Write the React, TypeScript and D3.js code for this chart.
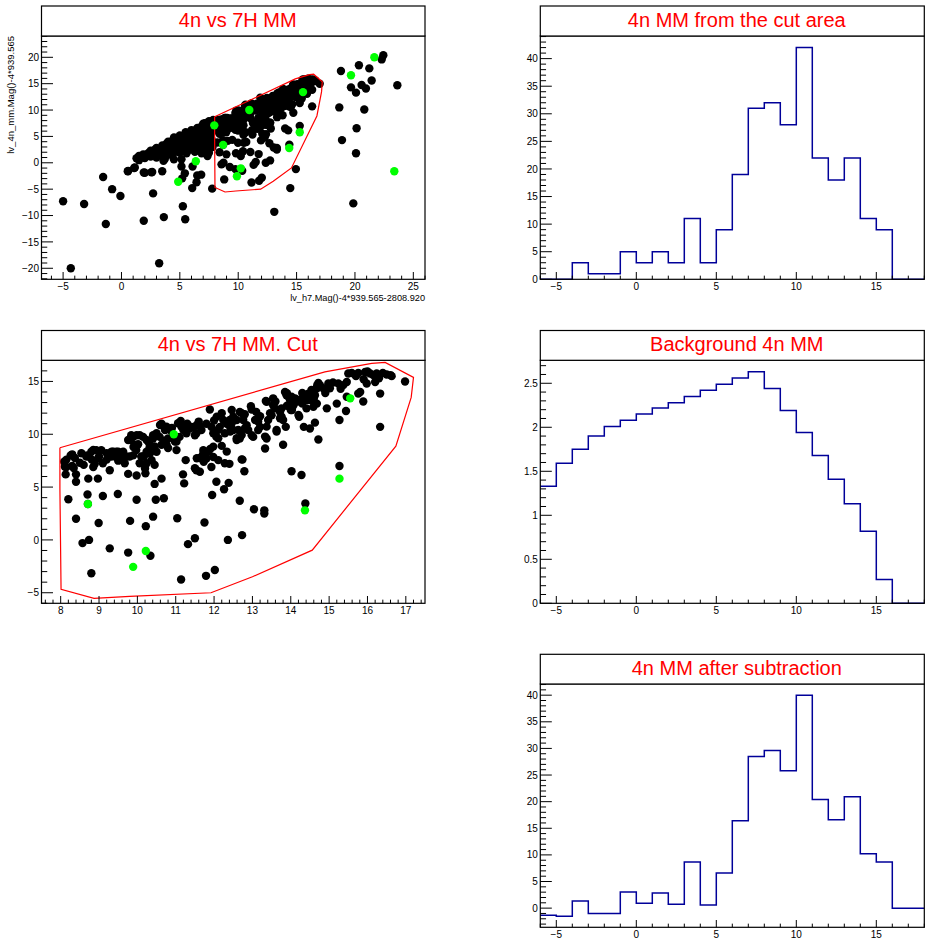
import React from "react";
import * as d3 from "d3";

const FONT = '"Liberation Sans", Arial, Helvetica, sans-serif';

// ---------------- DATA ----------------
const binLowEdges = [-6, -5, -4, -3, -2, -1, 0, 1, 2, 3, 4, 5, 6, 7, 8, 9, 10, 11, 12, 13, 14, 15, 16, 17];
const binWidth = 1;
const cutAreaCounts = [0, 0, 3, 1, 1, 5, 3, 5, 3, 11, 3, 9, 19, 31, 32, 28, 42, 22, 18, 22, 11, 9, 0, 0];
const backgroundCounts = [1.33, 1.59, 1.75, 1.9, 2.01, 2.08, 2.15, 2.22, 2.28, 2.35, 2.42, 2.49, 2.56, 2.63, 2.44, 2.19, 1.94, 1.68, 1.41, 1.13, 0.82, 0.27, 0, 0];
const subtractedCounts = [-1.32, -1.51, 1.32, -1.0, -1.0, 3.02, 0.94, 2.83, 0.75, 8.68, 0.57, 6.6, 16.4, 28.5, 29.6, 25.8, 40.0, 20.4, 16.6, 20.9, 10.2, 8.68, 0, 0];

const cutPolygon: [number, number][] = [
  [7.98, 8.72], [7.98, 4.87], [8.01, -4.68], [8.87, -5.54], [9.8, -5.35], [11.92, -5.0], [13.0, -3.49],
  [14.56, -0.97], [16.74, 8.88], [17.14, 13.49], [17.2, 15.38], [16.46, 16.8], [16.11, 16.7], [14.89, 15.91], [7.98, 8.72],
];

const blackInCut: [number, number][] = [
  [8.09,7.4],[8.15,6.9],[8.13,6.2],[8.26,8.0],[8.3,8.1],[8.34,6.8],[8.4,6.2],[8.4,5.5],[8.2,3.85],[8.4,2.0],[8.57,-0.3],[8.74,0.0],[8.8,-3.15],[8.7,4.3],[8.71,3.4],[8.72,5.8],[8.74,7.9],[8.69,8.0],[8.85,6.9],[8.89,7.2],[8.97,5.8],[8.93,8.5],[8.8,8.35],[8.54,8.2],[8.6,7.1],[8.11,6.93],[8.67,7.88],[8.85,8.51],[8.98,7.73],[8.81,7.6],[8.37,7.75],[8.15,7.6],
  [9.06,8.5],[9.1,7.25],[9.0,7.9],[9.28,6.6],[9.37,8.35],[9.45,7.9],[9.32,7.9],[9.45,8.35],[9.54,8.2],[9.63,8.35],[9.67,7.25],[9.76,6.25],[9.1,4.15],[9.49,4.35],[8.99,1.6],[9.28,-0.8],[9.76,-1.2],[9.81,1.8],[9.98,3.8],[9.98,6.1],[9.82,9.45],[9.89,9.75],[9.98,9.9],[9.84,9.9],[9.93,9.0],[9.8,7.9],[9.89,8.0],[9.58,7.7],[9.71,7.9],[9.2,7.6],[9.33,8.36],[9.5,8.36],[9.42,7.9],[9.63,7.9],[9.76,9.46],[9.97,8.5],
  [10.06,9.9],[10.15,9.75],[10.02,9.05],[10.1,7.9],[10.06,7.25],[10.2,6.75],[10.21,6.3],[10.17,7.9],[10.24,8.35],[10.32,8.75],[10.41,9.6],[10.41,9.9],[10.5,10.1],[10.58,9.75],[10.63,9.0],[10.5,8.35],[10.37,7.55],[10.45,7.1],[10.45,5.3],[10.48,3.8],[10.41,2.2],[10.22,1.3],[10.34,-1.5],[10.63,5.8],[10.69,3.95],[10.63,11.0],[10.72,10.55],[10.8,9.6],[10.93,9.9],[10.98,9.3],[11.02,8.5],[10.76,9.0],[10.85,10.4],[10.24,9.46],[10.45,8.84],[10.59,10.88],[10.72,10.4],[10.76,10.72],[11.02,9.3],[11.06,11.04],[10.15,7.9],[10.33,8.2],[10.24,7.25],
  [11.13,11.25],[11.15,10.7],[11.1,9.75],[11.24,10.4],[11.28,10.1],[11.37,10.55],[11.46,10.7],[11.54,10.1],[11.63,10.8],[11.67,10.4],[11.5,9.9],[11.19,6.2],[11.22,5.35],[11.04,2.05],[11.14,-3.75],[11.26,7.55],[11.32,-0.4],[11.5,0.15],[11.54,6.6],[11.63,6.45],[11.63,7.75],[11.67,7.85],[11.73,7.4],[11.75,1.65],[11.79,-3.4],[11.89,12.35],[11.93,10.7],[11.98,10.1],[12.02,-2.85],[11.8,7.7],[11.72,8.2],[11.85,8.35],[11.93,6.9],[11.98,7.85],[12.06,9.75],[12.11,7.55],[12.06,5.5],[11.95,4.25],[11.55,7.73],[11.72,8.5],[11.98,8.83],[12.11,9.62],[11.5,6.78],[11.55,10.88],[11.2,10.4],[11.37,10.72],
  [12.26,4.8],[12.36,0.0],[12.4,7.2],[12.38,5.4],[12.41,11.35],[12.46,12.3],[12.5,11.65],[12.59,11.35],[12.63,10.4],[12.67,9.6],[12.67,12.1],[12.76,11.35],[12.72,12.0],[12.8,10.55],[12.85,10.85],[12.89,10.4],[12.98,9.9],[12.74,7.6],[12.79,6.5],[12.67,3.7],[12.73,0.45],[12.96,12.65],[12.98,12.35],[13.02,9.75],[13.04,2.9],[13.07,11.35],[12.15,10.7],[12.24,11.35],[12.33,11.0],[12.28,10.1],[12.5,10.4],[12.59,9.45],[12.33,8.36],[12.28,7.25],[12.72,7.62],[12.42,10.25],[12.59,9.62],[12.72,9.93],[12.46,11.04],[12.07,11.67],
  [13.15,10.4],[13.2,10.7],[13.33,8.65],[13.31,2.8],[13.31,2.5],[13.35,13.15],[13.37,9.6],[13.41,11.35],[13.54,12.75],[13.59,12.45],[13.63,10.4],[13.72,12.1],[13.76,12.45],[13.8,11.35],[13.85,14.0],[13.89,13.7],[13.94,13.55],[13.98,13.25],[13.8,9.0],[14.0,12.3],[13.76,11.65],[13.87,10.7],[13.46,12.0],[13.37,13.08],[13.54,13.4],[13.9,13.88],[13.33,9.78],[13.63,10.25],[13.37,10.72],[13.15,11.2],[13.72,11.51],[13.72,12.3],
  [14.02,13.55],[14.07,13.25],[14.11,13.4],[14.15,13.1],[14.2,13.25],[14.24,13.1],[14.33,13.55],[14.41,13.25],[14.46,13.85],[14.5,13.25],[14.54,14.2],[14.59,14.0],[14.63,13.7],[14.68,14.35],[14.59,12.6],[14.68,12.9],[14.69,14.65],[14.72,14.85],[14.02,6.5],[14.22,11.65],[14.28,6.15],[14.34,10.7],[14.38,3.45],[14.41,12.45],[14.5,10.55],[14.63,11.1],[14.72,9.5],[14.07,12.75],[14.2,11.82],[14.03,12.3],
  [14.76,14.65],[14.85,14.35],[14.94,12.45],[14.98,14.8],[15.02,14.35],[15.2,12.9],[15.24,14.8],[15.27,11.35],[15.27,7.0],[15.37,14.65],[15.46,14.95],[15.46,13.55],[15.5,15.75],[15.44,12.2],[15.59,15.8],[15.76,15.8],[15.76,13.85],[15.81,14.0],[15.89,13.1],[15.94,15.9],[15.98,14.8],[16.07,15.75],[16.15,15.6],[16.2,14.95],[16.24,15.75],[16.33,13.85],[16.33,10.7],[16.5,15.65],[16.63,15.5],[16.98,15.0],
  [10.9,10.6],[11.3,11.0],[11.6,11.2],[11.8,11.0],[12.0,11.3],[12.2,12.0],[12.1,10.4],[12.4,10.8],[12.8,11.9],[13.1,12.1],[13.2,11.7],[13.5,11.8],[13.6,13.1],[13.9,12.7],[14.3,12.9],[14.3,13.9],[14.6,13.35],[14.9,13.9],[15.1,14.9],[15.3,14.3],[15.7,15.5],[15.9,15.2],[16.0,15.95],[16.3,15.3],[16.4,15.8],[16.6,15.6],[9.9,8.8],[10.3,9.2],[10.7,9.4],[9.5,7.5],[9.2,8.2],[8.5,7.3],[8.3,7.0],[10.8,8.7],[11.9,8.6],[12.2,8.9],
];

const blackOutCut: [number, number][] = [
  [-5.0,-7.3],[-3.2,-7.8],[-4.34,-20.0],[-1.57,-2.7],[-1.34,-11.6],[-0.8,-5.0],[-0.09,-6.3],[0.54,-1.6],[1.09,-1.0],[1.91,-1.85],[2.63,-1.75],[1.91,-11.0],[2.71,-5.8],[3.23,-19.05],[3.63,-10.3],[3.49,-1.6],[3.6,0.4],[5.26,-8.25],[5.46,-10.7],[5.2,-2.95],[5.43,-2.0],[5.14,-0.7],[5.14,0.65],[6.06,-4.8],[6.43,-3.7],[6.49,-2.4],[6.83,-2.25],[6.09,-0.7],[7.77,-4.9],[7.37,1.3],[13.09,-9.3],[14.46,-4.8],[14.94,-1.2],
  [18.8,17.4],[18.66,10.5],[18.89,4.3],[19.66,14.3],[20.09,13.3],[20.34,18.5],[20.57,14.75],[20.94,14.1],[20.8,10.1],[20.14,6.55],[20.09,1.8],[19.86,-7.7],[21.23,17.9],[21.43,15.6],[22.29,19.6],[22.43,20.4],[23.63,14.7],
  [1.29,0.85],[1.86,1.17],[2.29,1.8],[2.71,2.1],[3.14,2.5],[3.57,2.7],[3.86,3.6],[4.14,3.9],[4.43,4.2],[4.86,4.5],[5.29,4.8],[5.57,5.1],[5.86,5.4],[6.14,5.8],[6.43,6.0],[6.71,6.3],[7.0,7.0],[7.43,7.2],[7.71,7.5],[0.57,-1.55],[1.14,-0.9],[2.0,-1.9],[2.57,-1.8],[1.86,1.6],[2.43,1.9],[2.86,2.5],[3.29,2.2],[3.71,2.8],[4.14,3.8],[4.71,4.4],[5.14,5.0],[5.57,5.3],[6.0,5.6],[6.43,6.2],[6.86,6.9],[7.29,7.1],[7.57,7.7],[7.86,8.0],[4.43,2.87],[5.0,1.9],[5.43,2.2],[5.86,2.5],[6.14,3.1],[6.71,3.8],[7.0,2.9],[6.43,4.6],[7.29,4.9],[7.57,3.7],[7.71,5.6],[7.14,3.1],[3.71,0.7],[4.49,0.65],[4.29,1.67],[2.29,1.5],[3.0,2.1],[3.86,2.75],[4.43,3.05],[4.43,4.3],[5.0,4.45],[5.57,4.95],[6.14,5.6],[6.71,6.2],[7.29,7.15],[7.86,7.45],[4.43,1.8],[4.86,2.1],[5.57,1.8],[6.29,2.1],[6.63,3.05],[7.0,3.2],[7.43,2.75],[7.2,3.7],
  [6.0,4.5],[6.5,5.2],[7.0,5.8],[7.5,6.5],[7.7,4.5],[5.5,4.0],[5.0,3.4],[4.0,3.0],[3.4,1.5],[2.0,0.9],[1.6,1.0],[7.86,8.1],[7.14,7.5],[6.86,1.8],[7.49,1.9],
  [1.5,0.5],[1.5,1.3],[2.5,1.2],[2.5,2.3],[3.0,1.0],[3.0,2.8],[3.5,2.0],[3.5,3.3],[4.0,1.5],[4.0,2.2],[4.0,4.0],[4.5,2.4],[4.5,3.5],[4.5,4.8],[5.0,2.7],[5.0,3.9],[5.0,5.2],[5.5,2.8],[5.5,3.4],[5.5,4.5],[5.5,5.8],[6.0,3.6],[6.0,4.0],[6.0,6.2],[6.5,2.8],[6.5,3.5],[6.5,5.6],[6.5,6.6],[7.0,4.2],[7.0,4.8],[7.0,6.3],[7.0,7.4],[7.5,4.0],[7.5,5.2],[7.5,5.8],[7.5,7.0],[7.5,7.9],[7.8,6.2],[7.8,6.8],[7.8,3.0],
];

const greenPoints: [number, number][] = [
  [7.95,7.1],[8.71,3.4],[9.89,-2.55],[10.22,-1.05],[10.95,10.0],[14.37,2.8],[15.27,5.8],[15.55,13.4],[6.37,0.3],[4.86,-3.6],[19.66,16.6],[21.66,20.0],[23.37,-1.6],
];

const titles = ["4n vs 7H MM", "4n MM from the cut area", "4n vs 7H MM. Cut", "Background 4n MM", "4n MM after subtraction"];
const xAxisTitle1 = "lv_h7.Mag()-4*939.565-2808.920";
const yAxisTitle1 = "lv_4n_mm.Mag()-4*939.565";

// ---------------- LAYOUT ----------------
type Frame = { x0: number; x1: number; y0: number; y1: number; boxTop: number };
const frames: Frame[] = [
  { x0: 41.5, x1: 425, y0: 36, y1: 279.3, boxTop: 6 },
  { x0: 540.3, x1: 924.3, y0: 36, y1: 279.3, boxTop: 6 },
  { x0: 41.5, x1: 425, y0: 360.3, y1: 603.3, boxTop: 330.5 },
  { x0: 540.3, x1: 924.3, y0: 360.3, y1: 603.3, boxTop: 330.5 },
  { x0: 540.3, x1: 924.3, y0: 684, y1: 927.3, boxTop: 654.3 },
];

const fmt = d3.format("~g");

function tickValues(domain: number[], step: number) {
  const lo = Math.ceil(domain[0] / step - 1e-9);
  const hi = Math.floor(domain[1] / step + 1e-9);
  return d3.range(lo, hi + 1).map((i) => +(i * step).toFixed(6));
}
const isMult = (v: number, m: number) => Math.abs(v / m - Math.round(v / m)) < 1e-6;

function Pad(props: {
  f: Frame; title: string; xd: number[]; yd: number[];
  xMaj: number; xMin: number; yMaj: number; yMin: number;
  render: (xs: d3.ScaleLinear<number, number>, ys: d3.ScaleLinear<number, number>) => React.ReactNode;
}) {
  const { f, title, xd, yd, xMaj, xMin, yMaj, yMin, render } = props;
  const xs = d3.scaleLinear().domain(xd).range([f.x0, f.x1]);
  const ys = d3.scaleLinear().domain(yd).range([f.y1, f.y0]);
  const xTickLen = 0.03 * (f.y1 - f.y0);
  const yTickLen = 0.03 * (f.x1 - f.x0);
  const xt = tickValues(xd, xMin);
  const yt = tickValues(yd, yMin);
  return (
    <g>
      {render(xs, ys)}
      <rect x={f.x0} y={f.y0} width={f.x1 - f.x0} height={f.y1 - f.y0} fill="none" stroke="#000" strokeWidth={1.2} />
      {xt.map((v, i) => {
        const maj = isMult(v, xMaj);
        const x = xs(v);
        return (
          <g key={"x" + i}>
            <line x1={x} x2={x} y1={f.y1} y2={f.y1 - (maj ? xTickLen : xTickLen / 2)} stroke="#000" strokeWidth={1} />
            {maj && (
              <text x={x} y={f.y1 + 10.3} textAnchor="middle" fontSize={10} fontFamily={FONT} fill="#000">{fmt(v)}</text>
            )}
          </g>
        );
      })}
      {yt.map((v, i) => {
        const maj = isMult(v, yMaj);
        const y = ys(v);
        return (
          <g key={"y" + i}>
            <line x1={f.x0} x2={f.x0 + (maj ? yTickLen : yTickLen / 2)} y1={y} y2={y} stroke="#000" strokeWidth={1} />
            {maj && (
              <text x={f.x0 - 2.5} y={y} dy="0.36em" textAnchor="end" fontSize={10} fontFamily={FONT} fill="#000">{fmt(v)}</text>
            )}
          </g>
        );
      })}
      <rect x={f.x0} y={f.boxTop} width={f.x1 - f.x0} height={f.y0 - f.boxTop} fill="#fff" stroke="#000" strokeWidth={1.2} />
      <text x={(f.x0 + f.x1) / 2 + 4.5} y={f.y0 - 9.5} textAnchor="middle" fontSize={20} fontFamily={FONT} fill="#ff0000">{title}</text>
    </g>
  );
}

function Hist(xs: d3.ScaleLinear<number, number>, ys: d3.ScaleLinear<number, number>, vals: number[]) {
  const pts: [number, number][] = [];
  binLowEdges.forEach((e, i) => {
    pts.push([e, vals[i]]);
    pts.push([e + binWidth, vals[i]]);
  });
  const line = d3.line<[number, number]>().x((d) => xs(d[0])).y((d) => ys(d[1]));
  return <path d={line(pts) || ""} fill="none" stroke="#000099" strokeWidth={1.5} />;
}

function Scatter(xs: d3.ScaleLinear<number, number>, ys: d3.ScaleLinear<number, number>, black: [number, number][], green: [number, number][]) {
  const line = d3.line<[number, number]>().x((d) => xs(d[0])).y((d) => ys(d[1]));
  return (
    <g>
      {black.map((p, i) => (
        <circle key={"b" + i} cx={xs(p[0])} cy={ys(p[1])} r={4.2} fill="#000" />
      ))}
      <path d={line(cutPolygon) || ""} fill="none" stroke="#ff0000" strokeWidth={1.2} />
      {green.map((p, i) => (
        <circle key={"g" + i} cx={xs(p[0])} cy={ys(p[1])} r={4.2} fill="#00ff00" />
      ))}
    </g>
  );
}

export default function App() {
  const allBlack = blackInCut.concat(blackOutCut);
  const blackCut = allBlack.filter((p) => d3.polygonContains(cutPolygon, p));
  const greenCut = greenPoints.filter((p) => d3.polygonContains(cutPolygon, p));
  const f1 = frames[0];
  return (
    <svg width={952} height={952} style={{ position: "absolute", left: 0, top: 0, background: "#fff" }}>
      <rect x={0} y={0} width={952} height={952} fill="#fff" />
      <Pad f={frames[0]} title={titles[0]} xd={[-6.85, 26.0]} yd={[-22.09, 24.04]} xMaj={5} xMin={1} yMaj={5} yMin={1}
        render={(xs, ys) => Scatter(xs, ys, allBlack, greenPoints)} />
      <text x={f1.x1} y={300.5} textAnchor="end" fontSize={9.2} fontFamily={FONT} fill="#000">{xAxisTitle1}</text>
      <text transform={`translate(13.5, ${f1.y0}) rotate(-90)`} textAnchor="end" fontSize={9.5} fontFamily={FONT} fill="#000">{yAxisTitle1}</text>
      <Pad f={frames[1]} title={titles[1]} xd={[-6, 18]} yd={[0, 44.1]} xMaj={5} xMin={1} yMaj={5} yMin={1}
        render={(xs, ys) => Hist(xs, ys, cutAreaCounts)} />
      <Pad f={frames[2]} title={titles[2]} xd={[7.5, 17.5]} yd={[-6, 17]} xMaj={1} xMin={0.2} yMaj={5} yMin={1}
        render={(xs, ys) => Scatter(xs, ys, blackCut, greenCut)} />
      <Pad f={frames[3]} title={titles[3]} xd={[-6, 18]} yd={[0, 2.761]} xMaj={5} xMin={1} yMaj={0.5} yMin={0.1}
        render={(xs, ys) => Hist(xs, ys, backgroundCounts)} />
      <Pad f={frames[4]} title={titles[4]} xd={[-6, 18]} yd={[-3.6, 42.1]} xMaj={5} xMin={1} yMaj={5} yMin={1}
        render={(xs, ys) => Hist(xs, ys, subtractedCounts)} />
    </svg>
  );
}
